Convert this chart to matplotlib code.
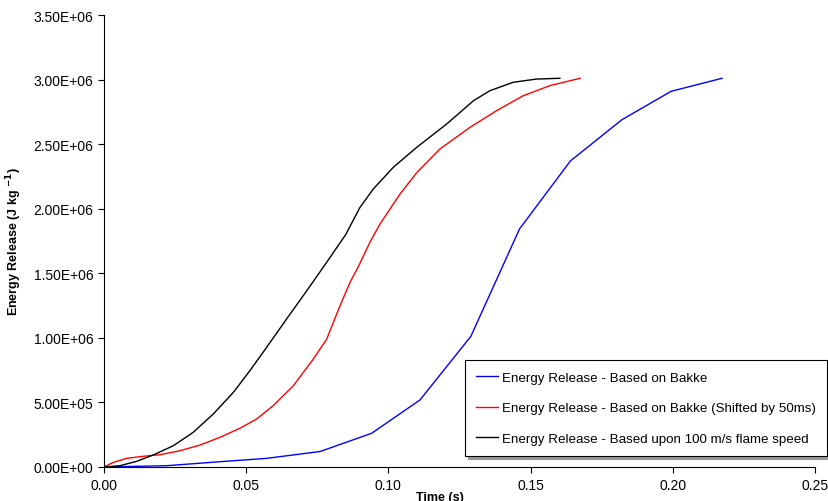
import matplotlib
matplotlib.use("Agg")
import matplotlib.pyplot as plt
from matplotlib.ticker import FuncFormatter

plt.rcParams['font.family'] = ['Liberation Sans', 'DejaVu Sans']

# Blue: Energy Release - Based on Bakke
blue_t = [0.0, 0.0220, 0.0408, 0.0572, 0.0760, 0.0941, 0.1111, 0.1290, 0.1461, 0.1640, 0.1821, 0.1994, 0.2173]
blue_e = [0.0, 1.0e4, 4.1e4, 6.7e4, 1.2e5, 2.61e5, 5.19e5, 1.012e6, 1.843e6, 2.370e6, 2.689e6, 2.909e6, 3.010e6]

# Red: shifted by 50 ms (smoothed)
red_t = [0.0, 0.0033, 0.0080, 0.0138, 0.0197, 0.0267, 0.0338, 0.0408, 0.0478, 0.0537, 0.0595,
         0.0666, 0.0736, 0.0783, 0.0830, 0.0865, 0.0894, 0.0935, 0.0970, 0.1041, 0.1100,
         0.1181, 0.1287, 0.1381, 0.1474, 0.1568, 0.1674]
red_e = [0.0, 3.6e4, 6.7e4, 8.3e4, 9.5e4, 1.26e5, 1.70e5, 2.30e5, 3.00e5, 3.72e5, 4.75e5,
         6.30e5, 8.36e5, 9.90e5, 1.249e6, 1.43e6, 1.55e6, 1.74e6, 1.88e6, 2.114e6, 2.28e6,
         2.462e6, 2.63e6, 2.76e6, 2.875e6, 2.953e6, 3.01e6]

# Black: Based upon 100 m/s flame speed
black_t = [0.0, 0.0056, 0.0115, 0.0173, 0.0244, 0.0314, 0.0384, 0.0455, 0.0513, 0.0572, 0.0642,
           0.0713, 0.0783, 0.0850, 0.0900, 0.0947, 0.1017, 0.1100, 0.1205, 0.1299, 0.1357,
           0.1439, 0.1521, 0.1603]
black_e = [0.0, 1.0e4, 4.4e4, 9.3e4, 1.65e5, 2.69e5, 4.10e5, 5.78e5, 7.46e5, 9.27e5, 1.146e6,
           1.365e6, 1.585e6, 1.80e6, 2.01e6, 2.153e6, 2.32e6, 2.476e6, 2.656e6, 2.836e6, 2.914e6,
           2.979e6, 3.004e6, 3.01e6]

labels = ['Energy Release - Based on Bakke',
          'Energy Release - Based on Bakke (Shifted by 50ms)',
          'Energy Release - Based upon 100 m/s flame speed']

x_ticks = [0.0, 0.05, 0.10, 0.15, 0.20, 0.25]
y_ticks = [0.0, 5e5, 1e6, 1.5e6, 2e6, 2.5e6, 3e6, 3.5e6]

fig = plt.figure(figsize=(8.29, 5.02), dpi=100)
ax = fig.add_axes([104/829, 1 - 468/502, 711/829, 452/502])

l1, = ax.plot(blue_t, blue_e, color='#0000ff', lw=1.0, label=labels[0])
l2, = ax.plot(red_t, red_e, color='#ff0000', lw=1.0, label=labels[1])
l3, = ax.plot(black_t, black_e, color='#000000', lw=1.0, label=labels[2])

ax.set_xlim(0, 0.25)
ax.set_ylim(0, 3.5e6)
ax.set_xticks(x_ticks)
ax.set_yticks(y_ticks)
ax.xaxis.set_major_formatter(FuncFormatter(lambda v, p: f"{v:.2f}"))
ax.yaxis.set_major_formatter(FuncFormatter(lambda v, p: f"{v:.2E}"))
ax.tick_params(axis='both', labelsize=10, direction='out', length=4, width=0.8, colors='black')
ax.tick_params(axis='x', pad=4)
ax.spines['top'].set_visible(False)
ax.spines['right'].set_visible(False)
for s in ('left', 'bottom'):
    ax.spines[s].set_linewidth(0.8)

ax.set_xlabel('Time (s)', fontsize=9, fontweight='bold')
ax.xaxis.set_label_coords(0.4726, -0.052)
ax.set_ylabel(r'Energy Release (J kg $^{\mathbf{-1}}$)', fontsize=9, fontweight='bold')
ax.yaxis.set_label_coords(-0.1125, 0.5)

leg = fig.legend(handles=[l1, l2, l3], loc='upper left',
                 bbox_to_anchor=(465/829, 1 - 361/502), fontsize=9.6,
                 frameon=True, fancybox=False, edgecolor='black',
                 shadow={'color': '0.6', 'alpha': 1.0},
                 handlelength=1.65, handletextpad=0.25, labelspacing=1.38,
                 borderpad=0.85, borderaxespad=0.0)
leg.get_frame().set_linewidth(0.8)

fig.savefig('out.png', dpi=100)
